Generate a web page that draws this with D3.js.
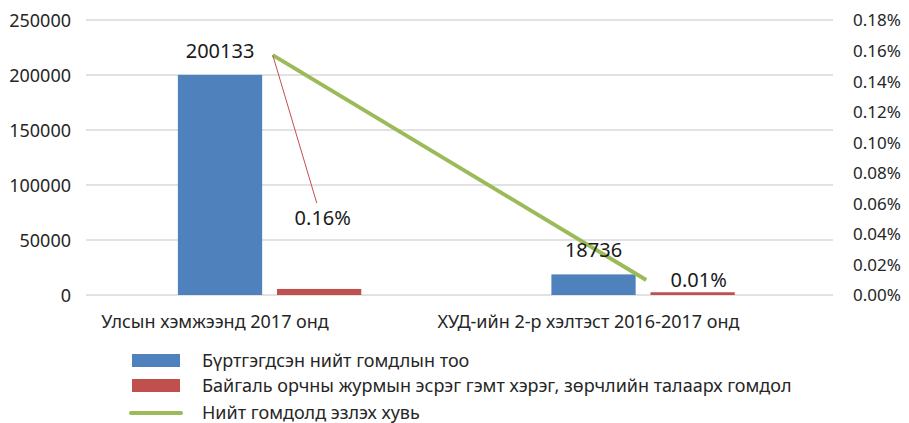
<!DOCTYPE html>
<html><head><meta charset="utf-8">
<script src="https://cdn.jsdelivr.net/npm/d3@7/dist/d3.min.js"></script>
<style>body{margin:0;background:#fff}svg{display:block;font-family:"Noto Sans","Open Sans",sans-serif}</style>
</head><body><svg id="c" width="909" height="423"></svg>
<script>
const categories = ["Улсын хэмжээнд 2017 онд", "ХУД-ийн 2-р хэлтэст 2016-2017 онд"];
const seriesNames = ["Бүртгэгдсэн нийт гомдлын тоо", "Байгаль орчны журмын эсрэг гэмт хэрэг, зөрчлийн талаарх гомдол", "Нийт гомдолд эзлэх хувь"];
const totalComplaints = [200133, 18736];
const envComplaints = [5500, 2500];
const sharePct = [0.157, 0.0098];
const shareLabels = ["0.16%", "0.01%"];
const leftTicks = [0, 50000, 100000, 150000, 200000, 250000];
const rightTicks = [0, 0.02, 0.04, 0.06, 0.08, 0.10, 0.12, 0.14, 0.16, 0.18];
const colors = ["#4F81BD", "#C0504D", "#9BBB59"];

const svg = d3.select("#c");
const L = 86, R = 833, T = 20, B = 295;
const x0 = d3.scaleBand().domain(categories).range([L, R]).padding(0);
const bw = x0.bandwidth();
const x1 = d3.scaleBand().domain([0, 1]).range([bw * 0.246, bw * 0.737]).paddingInner(0.15);
const y = d3.scaleLinear().domain([0, 250000]).range([B, T]);
const y2 = d3.scaleLinear().domain([0, 0.18]).range([B, T]);

// gridlines
svg.append("g").selectAll("line").data(leftTicks).join("line")
  .attr("x1", L).attr("x2", R).attr("y1", d => y(d)).attr("y2", d => y(d))
  .attr("stroke", "#d9d9d9").attr("stroke-width", 1.3);

// left axis
const lg = svg.append("g").attr("transform", `translate(${L - 12},0)`)
  .call(d3.axisLeft(y).tickValues(leftTicks).tickSize(0).tickFormat(d3.format("d")));
lg.select(".domain").remove();
lg.selectAll("text").attr("font-size", 18).attr("fill", "#262626").attr("font-family", "Noto Sans").attr("dy", "0.35em");

// right axis
const rg = svg.append("g").attr("transform", `translate(${R + 20},0)`)
  .call(d3.axisRight(y2).tickValues(rightTicks).tickSize(0).tickFormat(d3.format(".2f")));
rg.select(".domain").remove();
rg.selectAll("text").text(d => d3.format(".2f")(d) + "%").attr("x", 0).attr("font-size", 17).attr("fill", "#262626").attr("font-family", "Noto Sans").attr("dy", "0.35em");

// bars
const seriesVals = [totalComplaints, envComplaints];
seriesVals.forEach((vals, s) => {
  svg.append("g").selectAll("rect").data(categories).join("rect")
    .attr("x", c => x0(c) + x1(s)).attr("width", x1.bandwidth())
    .attr("y", (c, i) => y(vals[i])).attr("height", (c, i) => B - y(vals[i]))
    .attr("fill", colors[s]);
});

// category labels
svg.append("g").selectAll("text").data(categories).join("text")
  .attr("x", c => x0(c) + x1(0) + x1.bandwidth() / 2 - 5).attr("y", 328)
  .attr("text-anchor", "middle").attr("font-size", 18).attr("fill", "#262626").text(c => c);

// line
const cx = c => x0(c) + bw / 2;
const line = d3.line().x((d, i) => cx(categories[i])).y(d => y2(d));
svg.append("path").datum(sharePct).attr("d", line).attr("fill", "none")
  .attr("stroke", colors[2]).attr("stroke-width", 4);

// data labels: totals
svg.append("g").selectAll("text").data(categories).join("text")
  .attr("x", c => x0(c) + x1(0) + x1.bandwidth() / 2)
  .attr("y", (c, i) => i === 0 ? 58 : y(totalComplaints[i]) - 17)
  .attr("text-anchor", "middle").attr("font-size", 20).attr("fill", "#1a1a1a")
  .text((c, i) => totalComplaints[i]);

// leader line for first percentage label
svg.append("line").attr("x1", cx(categories[0])).attr("y1", y2(sharePct[0]))
  .attr("x2", cx(categories[0]) + 44).attr("y2", 203)
  .attr("stroke", "#C0504D").attr("stroke-width", 1);

// percentage labels
const pctPos = [[cx(categories[0]) + 50, 225], [x0(categories[1]) + x1(1) + x1.bandwidth() / 2 + 6, 287]];
svg.append("g").selectAll("text").data(shareLabels).join("text")
  .attr("x", (d, i) => pctPos[i][0]).attr("y", (d, i) => pctPos[i][1])
  .attr("text-anchor", "middle").attr("font-size", 20).attr("fill", "#1a1a1a").text(d => d);

// legend
const lgd = svg.append("g");
const rowsY = [360.5, 385.5, 413];
[0, 1, 2].forEach(i => {
  const yy = rowsY[i];
  if (i < 2) {
    lgd.append("rect").attr("x", 132).attr("y", yy - 6.5).attr("width", 48).attr("height", 13).attr("fill", colors[i]);
  } else {
    lgd.append("line").attr("x1", 131).attr("x2", 181).attr("y1", yy).attr("y2", yy)
      .attr("stroke", colors[2]).attr("stroke-width", 4).attr("stroke-linecap", "round");
  }
  lgd.append("text").attr("x", 202).attr("y", yy).attr("dy", "0.35em")
    .attr("font-size", 18).attr("fill", "#262626").text(seriesNames[i]);
});
</script></body></html>
